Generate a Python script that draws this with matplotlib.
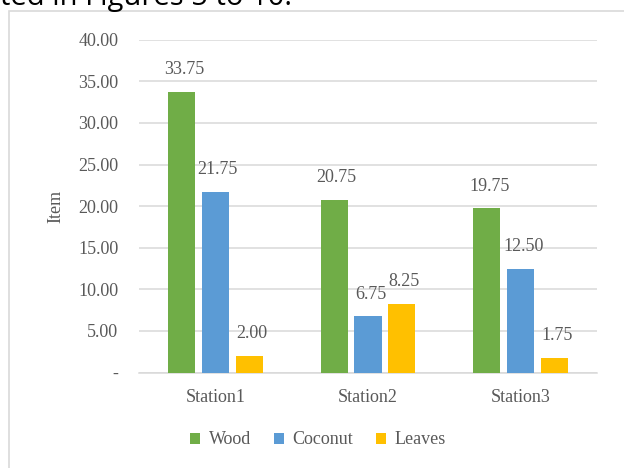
import matplotlib.pyplot as plt
import numpy as np
from matplotlib.patches import Rectangle

stations = ["Station1", "Station2", "Station3"]
wood = [33.75, 20.75, 19.75]
coconut = [21.75, 6.75, 12.50]
leaves = [2.00, 8.25, 1.75]
yticks = [0, 5, 10, 15, 20, 25, 30, 35, 40]

series = [("Wood", wood, "#70ad47"), ("Coconut", coconut, "#5b9bd5"), ("Leaves", leaves, "#ffc000")]
grey = "#595959"
fs = 13

plt.rcParams["font.family"] = ["Liberation Serif", "DejaVu Serif"]

fig = plt.figure(figsize=(6.24, 4.68), dpi=100)
W, H = 624, 468
ax = fig.add_axes([139 / W, 1 - 372.5 / H, 458 / W, (372.5 - 39.7) / H])

# outer chart frame, partly running off the page
fig.patches.append(Rectangle((9 / W, -0.05), 1.2, 1 - 11 / H + 0.05, transform=fig.transFigure,
                             fill=False, edgecolor="#d9d9d9", linewidth=1.2))

# caption line cut off at the top of the page
fig.text(0 / W, 1 - 5 / H, "ted in Figures 5 to 10.", fontsize=21, family="Open Sans",
         color="black", ha="left", va="baseline")

x = np.arange(len(stations))
bw = 0.177
step = 0.222
for i, (name, vals, color) in enumerate(series):
    pos = x + (i - 1) * step
    ax.bar(pos, vals, width=bw, color=color, label=name, zorder=3)
    for p, v in zip(pos, vals):
        ax.annotate(f"{v:.2f}", (p, v), xytext=(1.8, 15.8), textcoords="offset points",
                    ha="center", va="center", fontsize=fs, color=grey)

ax.set_xlim(-0.5, 2.5)
ax.set_ylim(0, 40)
ax.set_yticks(yticks)
ax.set_yticklabels(["-" if t == 0 else f"{t:.2f}" for t in yticks])
ax.set_xticks(x)
ax.set_xticklabels(stations)
ax.tick_params(axis="both", length=0, labelsize=fs, colors=grey)
ax.tick_params(axis="y", pad=15)
ax.tick_params(axis="x", pad=12)
ax.grid(axis="y", color="#d9d9d9", linewidth=1.1, zorder=0)
for s in ["top", "right", "left"]:
    ax.spines[s].set_visible(False)
ax.spines["bottom"].set_color("#d9d9d9")
ax.spines["bottom"].set_linewidth(1.1)
ax.set_ylabel("Item", fontsize=fs, color=grey, labelpad=10)

leg = fig.legend(loc="center", bbox_to_anchor=(318 / W, 1 - 440 / H), ncol=3, frameon=False,
                 fontsize=fs, handlelength=0.55, handleheight=0.55, handletextpad=0.5,
                 columnspacing=1.25)
for t in leg.get_texts():
    t.set_color(grey)

fig.savefig("out.png", dpi=100)
